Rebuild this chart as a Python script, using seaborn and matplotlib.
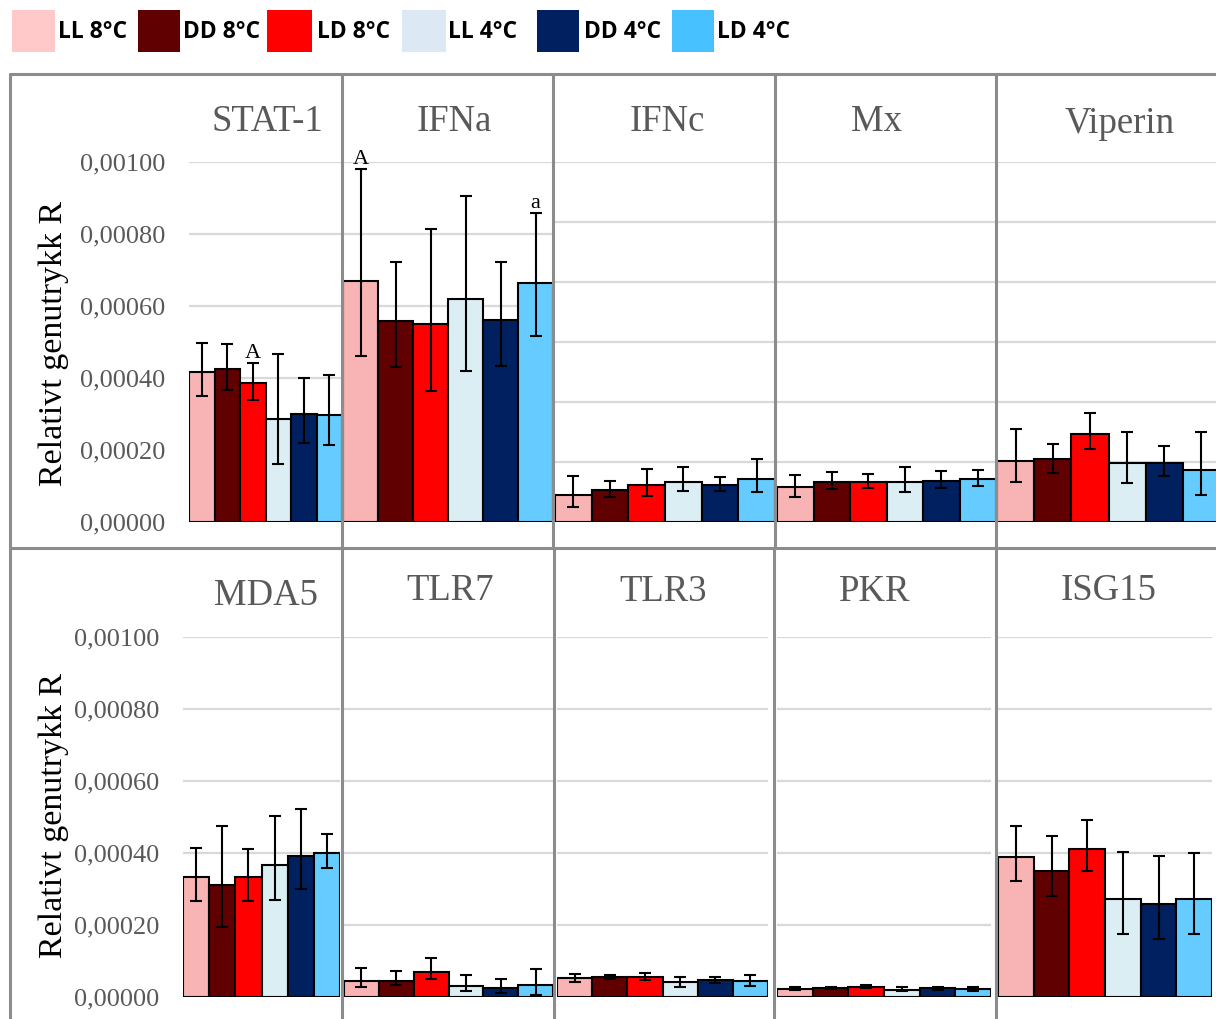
import numpy as np
import pandas as pd
import matplotlib
matplotlib.use("Agg")
import matplotlib.pyplot as plt
import seaborn as sns
from matplotlib.ticker import FuncFormatter
from matplotlib.lines import Line2D
from matplotlib.patches import Rectangle

# ---------------- data ----------------
conditions = ["LL 8°C", "DD 8°C", "LD 8°C", "LL 4°C", "DD 4°C", "LD 4°C"]
bar_colors = ["#F8B4B4", "#600000", "#FF0000", "#DAEEF3", "#002060", "#66CCFF"]
legend_colors = ["#FFC9C9", "#600000", "#FF0000", "#DDE8F5", "#002060", "#47C1FF"]

genes = ["STAT-1", "IFNa", "IFNc", "Mx", "Viperin",
         "MDA5", "TLR7", "TLR3", "PKR", "ISG15"]

# values in units of 1e-5
stat1_mean = [41.6, 42.5, 38.6, 28.6, 30.1, 29.8]
stat1_hi   = [49.6, 49.4, 44.1, 46.7, 39.9, 40.7]
stat1_lo   = [35.1, 36.7, 33.9, 16.0, 21.9, 21.3]

ifna_mean = [66.9, 55.8, 55.1, 62.0, 56.0, 66.3]
ifna_hi   = [98.1, 72.2, 81.4, 90.6, 72.3, 86.0]
ifna_lo   = [46.1, 43.1, 36.4, 41.9, 43.3, 51.8]

ifnc_mean = [4.5, 5.3, 6.1, 6.7, 6.2, 7.2]
ifnc_hi   = [7.6, 6.8, 8.8, 9.2, 7.5, 10.4]
ifnc_lo   = [2.4, 4.2, 4.3, 5.2, 5.2, 5.0]

mx_mean = [5.8, 6.7, 6.6, 6.6, 6.8, 7.1]
mx_hi   = [7.8, 8.3, 7.9, 9.1, 8.4, 8.6]
mx_lo   = [4.2, 5.5, 5.7, 5.0, 5.7, 5.9]

viperin_mean = [10.2, 10.4, 14.6, 9.8, 9.8, 8.7]
viperin_hi   = [15.4, 13.0, 18.1, 15.0, 12.7, 14.9]
viperin_lo   = [6.7, 8.1, 12.1, 6.5, 7.7, 4.5]

mda5_mean = [33.3, 31.0, 33.2, 36.6, 39.2, 40.0]
mda5_hi   = [41.5, 47.4, 41.1, 50.3, 52.2, 45.2]
mda5_lo   = [26.7, 19.5, 26.5, 26.9, 30.1, 35.7]

tlr7_mean = [4.4, 4.5, 6.8, 3.1, 2.4, 3.2]
tlr7_hi   = [7.9, 7.2, 10.7, 6.0, 5.0, 7.7]
tlr7_lo   = [2.8, 3.2, 5.0, 1.6, 0.9, 0.6]

tlr3_mean = [5.1, 5.5, 5.4, 4.0, 4.6, 4.4]
tlr3_hi   = [6.2, 6.1, 6.5, 5.6, 5.4, 5.9]
tlr3_lo   = [4.2, 5.0, 4.6, 2.7, 3.8, 3.0]

pkr_mean = [2.2, 2.4, 2.8, 2.0, 2.3, 2.1]
pkr_hi   = [2.6, 2.7, 3.2, 2.7, 2.6, 2.8]
pkr_lo   = [1.8, 2.1, 2.4, 1.5, 2.0, 1.6]

isg15_mean = [38.8, 35.1, 41.2, 27.3, 25.7, 27.3]
isg15_hi   = [47.4, 44.8, 49.3, 40.3, 39.1, 40.1]
isg15_lo   = [32.1, 27.9, 35.0, 17.5, 16.0, 17.5]

series = {
    "STAT-1": (stat1_mean, stat1_hi, stat1_lo),
    "IFNa": (ifna_mean, ifna_hi, ifna_lo),
    "IFNc": (ifnc_mean, ifnc_hi, ifnc_lo),
    "Mx": (mx_mean, mx_hi, mx_lo),
    "Viperin": (viperin_mean, viperin_hi, viperin_lo),
    "MDA5": (mda5_mean, mda5_hi, mda5_lo),
    "TLR7": (tlr7_mean, tlr7_hi, tlr7_lo),
    "TLR3": (tlr3_mean, tlr3_hi, tlr3_lo),
    "PKR": (pkr_mean, pkr_hi, pkr_lo),
    "ISG15": (isg15_mean, isg15_hi, isg15_lo),
}

# significance letters: (gene, condition index, letter)
letters = [("STAT-1", 2, "A"), ("IFNa", 0, "A"), ("IFNa", 5, "a")]

rows = []
for g in genes:
    m, hi, lo = series[g]
    for c, mv, h, l in zip(conditions, m, hi, lo):
        rows.append({"gene": g, "cond": c, "val": mv * 1e-5,
                     "hi": h * 1e-5, "lo": l * 1e-5})
df = pd.DataFrame(rows)

# ---------------- style ----------------
sns.set_theme(style="white")
plt.rcParams["font.family"] = ["Liberation Serif", "DejaVu Serif"]

W, H = 1216, 1019
fig = plt.figure(figsize=(W / 100, H / 100), dpi=100)
fig.patch.set_facecolor("white")

TOP = (162.3, 521.7)
BOT = (637.3, 996.7)
# gene, x0, x1, row extents, ymax, n gridlines, tick labels
layout = [
    ("STAT-1", 189, 342, TOP, 0.0010, 5, True),
    ("IFNa", 343, 553, TOP, 0.0010, 5, False),
    ("IFNc", 555, 775, TOP, 0.0006, 6, False),
    ("Mx", 777, 996, TOP, 0.0006, 6, False),
    ("Viperin", 997, 1220, TOP, 0.0006, 6, False),
    ("MDA5", 183, 340, BOT, 0.0010, 5, True),
    ("TLR7", 344, 553, BOT, 0.0010, 5, False),
    ("TLR3", 557, 768, BOT, 0.0010, 5, False),
    ("PKR", 777, 991, BOT, 0.0010, 5, False),
    ("ISG15", 998, 1212, BOT, 0.0010, 5, False),
]

palette = dict(zip(conditions, bar_colors))
fmt = FuncFormatter(lambda v, p: f"{v:.5f}".replace(".", ","))

for gene, x0, x1, (yt, yb), ymax, n, show in layout:
    ax = fig.add_axes([x0 / W, 1 - yb / H, (x1 - x0) / W, (yb - yt) / H])
    sub = df[df["gene"] == gene]
    sns.barplot(data=sub, x="cond", y="val", hue="cond", order=conditions,
                hue_order=conditions, palette=palette, saturation=1,
                width=1.0, dodge=False,
                edgecolor="black", linewidth=1.5, errorbar=None, legend=False,
                ax=ax, zorder=2)
    xs = np.arange(len(conditions))
    vals = sub["val"].to_numpy()
    ax.errorbar(xs, vals, yerr=[vals - sub["lo"].to_numpy(), sub["hi"].to_numpy() - vals],
                fmt="none", ecolor="black", elinewidth=1.5, capsize=4.3,
                capthick=1.5, zorder=3, clip_on=False)
    ax.set_xlim(-0.5, 5.5)
    ax.set_ylim(0, ymax)
    ax.set_yticks(np.linspace(0, ymax, n + 1))
    ax.yaxis.grid(True, color="#D9D9D9", linewidth=1.6)
    ax.xaxis.grid(False)
    ax.set_axisbelow(True)
    ax.set_xticks([])
    ax.set_xlabel("")
    ax.set_ylabel("")
    ax.tick_params(axis="y", length=0, pad=17, labelsize=19, labelcolor="#595959",
                   labelleft=show)
    ax.yaxis.set_major_formatter(fmt)
    ax.patch.set_alpha(0)
    for s in ax.spines.values():
        s.set_visible(False)
    for (lg, idx, letter) in letters:
        if lg == gene:
            ax.text(idx, sub["hi"].to_numpy()[idx], letter, ha="center", va="bottom",
                    fontsize=16, color="black", clip_on=False)

# titles
title_pos = {
    "STAT-1": (267, 122), "IFNa": (454, 122), "IFNc": (667, 122),
    "Mx": (877, 122), "Viperin": (1120, 124),
    "MDA5": (266, 596), "TLR7": (450, 591), "TLR3": (663, 592),
    "PKR": (875, 592), "ISG15": (1109, 591),
}
for g, (tx, ty) in title_pos.items():
    fig.text(tx / W, 1 - ty / H, g, ha="center", va="center", fontsize=26.5,
             color="#595959")

# y labels
for cy in (343, 815):
    fig.text(54 / W, 1 - cy / H, "Relativt genutrykk R", rotation=90,
             ha="center", va="center", fontsize=24.5, color="black")

# frame lines
frame_color = "#8C8C8C"
def hline(y, xa, xb):
    fig.add_artist(Line2D([xa / W, xb / W], [1 - y / H, 1 - y / H],
                          color=frame_color, lw=2.2))
def vline(x, ya, yb):
    fig.add_artist(Line2D([x / W, x / W], [1 - ya / H, 1 - yb / H],
                          color=frame_color, lw=2.2))

hline(74, 10, 1216)
hline(548, 10, 1216)
vline(10, 74, 1019)
for x in (342, 553, 775, 996):
    vline(x, 74, 548)
for x in (342, 554, 774, 996):
    vline(x, 548, 1019)

# legend
leg_patch_x = [(12, 55), (138, 180), (267, 312), (402, 446), (537, 579), (672, 714)]
leg_text_x = [58, 183, 317, 448, 584, 717]
for (a, b), tx, c, lab in zip(leg_patch_x, leg_text_x, legend_colors, conditions):
    fig.add_artist(Rectangle((a / W, 1 - 52 / H), (b - a) / W, 42 / H,
                             facecolor=c, edgecolor="none", transform=fig.transFigure))
    fig.text(tx / W, 1 - 32 / H, lab, ha="left", va="center", fontsize=16.5,
             fontweight="bold", color="black", family=["Open Sans", "DejaVu Sans"])

fig.savefig("out.png", dpi=100, facecolor="white")
